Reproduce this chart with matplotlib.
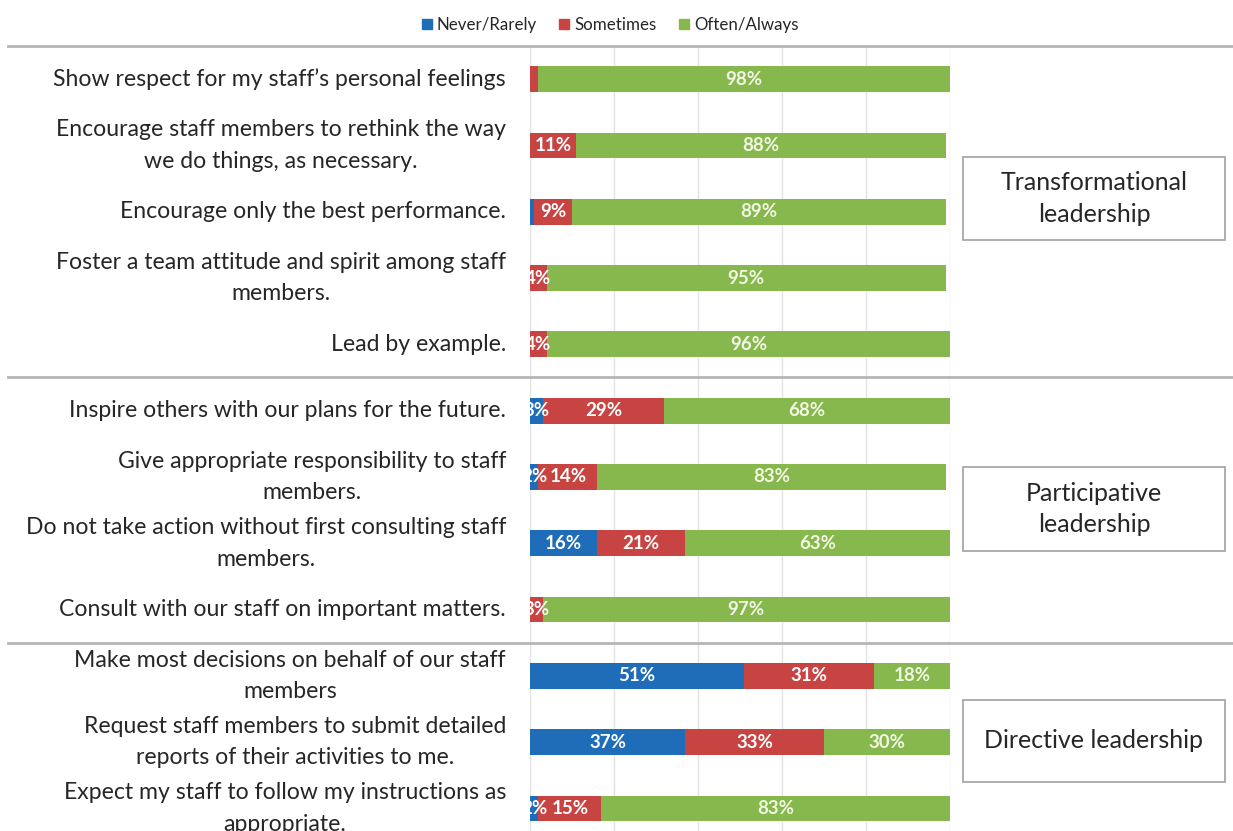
import matplotlib
matplotlib.use("Agg")
import matplotlib.pyplot as plt
from matplotlib.lines import Line2D
from matplotlib.patches import Rectangle, Patch
import matplotlib.transforms as mtransforms

plt.rcParams['font.family'] = ['Lato', 'DejaVu Sans']

# ---------------- data ----------------
items = [
    "Show respect for my staff\u2019s personal feelings",
    "Encourage staff members to rethink the way\nwe do things, as necessary.",
    "Encourage only the best performance.",
    "Foster a team attitude and spirit among staff\nmembers.",
    "Lead by example.",
    "Inspire others with our plans for the future.",
    "Give appropriate responsibility to staff\nmembers.",
    "Do not take action without first consulting staff\nmembers.",
    "Consult with our staff on important matters.",
    "Make most decisions on behalf of our staff\nmembers",
    "Request staff members to submit detailed\nreports of their activities to me.",
    "Expect my staff to follow my instructions as\nappropriate.",
]
never_rarely = [0, 0, 1, 0, 0, 3, 2, 16, 0, 51, 37, 2]
sometimes = [2, 11, 9, 4, 4, 29, 14, 21, 3, 31, 33, 15]
often_always = [98, 88, 89, 95, 96, 68, 83, 63, 97, 18, 30, 83]
series_names = ["Never/Rarely", "Sometimes", "Often/Always"]
groups = ["Transformational\nleadership", "Participative\nleadership", "Directive leadership"]
hidden_labels = [(0, 1)]  # (row, series) labels not displayed in source

# ---------------- style ----------------
colors = ['#1f6db8', '#c84442', '#87b84d']
label_colors = ['#ffffff', '#ffffff', '#f2f7e4']
text_color = '#262626'
W, H = 1233, 831

fig = plt.figure(figsize=(W / 100, H / 100), dpi=100)
top_px = 46
ax = fig.add_axes([530 / W, 0, 420 / W, (H - top_px) / H])
row_px = 66.3
ax.set_xlim(0, 100)
ax.set_ylim(-0.5 + (H - top_px) / row_px, -0.5)

series = [never_rarely, sometimes, often_always]
n = len(items)
lefts = [0] * n
for s, vals in enumerate(series):
    ax.barh(range(n), vals, left=lefts, height=0.39, color=colors[s], zorder=2)
    for i, v in enumerate(vals):
        if v >= 2 and (i, s) not in hidden_labels:
            ax.text(lefts[i] + v / 2, i, f"{v}%", ha='center', va='center',
                    color=label_colors[s], fontsize=13.5, fontweight='bold', zorder=3 + s)
    lefts = [l + v for l, v in zip(lefts, vals)]

ax.set_xticks(range(0, 101, 20))
ax.set_yticks([])
ax.tick_params(axis='x', length=0, labelbottom=False)
ax.grid(axis='x', color='#e3e3e3', lw=1, zorder=0)
for sp in ax.spines.values():
    sp.set_visible(False)

blend = mtransforms.blended_transform_factory(fig.transFigure, ax.transData)

# category labels
for i, lab in enumerate(items):
    ax.text(506 / W, i, lab, transform=blend, ha='right', va='center',
            multialignment='center', fontsize=16.6, color=text_color, linespacing=1.62)

# separators
for yv in [-0.5, 4.5, 8.5]:
    fig.add_artist(Line2D([8 / W, 1.0], [yv, yv], transform=blend,
                          color='#b5b5b5', lw=2, zorder=5))

# group boxes
boxes_px = [(963, 157, 1225, 240), (963, 467, 1225, 551), (963, 700, 1225, 782)]
for (x0, y0, x1, y1), g in zip(boxes_px, groups):
    fig.add_artist(Rectangle((x0 / W, 1 - y1 / H), (x1 - x0) / W, (y1 - y0) / H,
                             transform=fig.transFigure, fill=False,
                             edgecolor='#a8a8a8', lw=1.3))
    fig.text((x0 + x1) / 2 / W, 1 - (y0 + y1) / 2 / H, g, ha='center', va='center',
             multialignment='center', fontsize=18, color=text_color, linespacing=1.45)

# legend
handles = [Patch(color=c, label=nm) for c, nm in zip(colors, series_names)]
fig.legend(handles=handles, loc='center', bbox_to_anchor=(610 / W, 1 - 25 / H),
           ncol=3, frameon=False, fontsize=12.2, handlelength=0.6, handleheight=0.6,
           handletextpad=0.3, columnspacing=1.3, labelcolor=text_color)

fig.savefig('out.png', dpi=100)
